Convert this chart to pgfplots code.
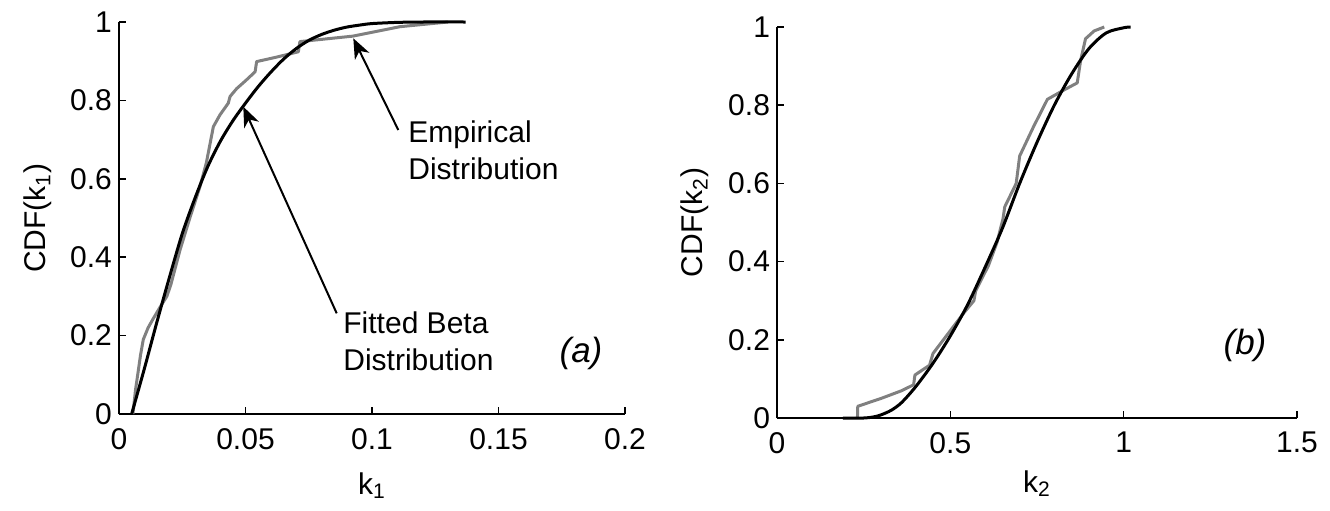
\documentclass[border=0pt]{standalone}
\usepackage{fontspec}
\setmainfont{Liberation Sans}
\usepackage{pgfplots}
\pgfplotsset{compat=1.18}
\usetikzlibrary{arrows.meta}

\definecolor{empgray}{gray}{0.5}

\pgfplotsset{
  cdfax/.style={
    scale only axis,
    anchor=south west,
    axis lines=left,
    axis line style={-, line width=1pt},
    tick align=inside,
    major tick length=3.5pt,
    tick style={line width=0.8pt, black},
    ymin=0, ymax=1,
    ytick={0,0.2,0.4,0.6,0.8,1},
    yticklabels={0,0.2,0.4,0.6,0.8,1},
    ticklabel style={font=\fontsize{15}{18}\selectfont},
    xticklabel style={yshift=-3.5pt},
    label style={font=\fontsize{15}{18}\selectfont},
    /pgf/number format/assume math mode=true,
    clip=false,
  },
  fitline/.style={black, line width=1.5pt, line join=round},
  empline/.style={empgray, line width=1.5pt, line join=round},
}

\begin{document}
\begin{tikzpicture}
\path[use as bounding box] (0pt,0pt) rectangle (665pt,255pt);

% (a) k1
\begin{axis}[cdfax,
  at={(59.5pt,48pt)}, width=253pt, height=196pt,
  xmin=0, xmax=0.2,
  xtick={0,0.05,0.1,0.15,0.2},
  xticklabels={0,0.05,0.1,0.15,0.2},
  xlabel={k\textsubscript{1}},
  ylabel={CDF(k\textsubscript{1})},
  xlabel style={at={(axis description cs:0.5,0)}, anchor=base, yshift=-40pt},
  ylabel style={at={(axis description cs:0,0.5)}, anchor=center, yshift=40.5pt},
]
\addplot[empline] coordinates {
(0.0055,0) (0.0065,0.06) (0.0085,0.15) (0.0096,0.19) (0.0115,0.22) (0.0136,0.244)
(0.016,0.27) (0.0189,0.30) (0.0205,0.33) (0.0241,0.418) (0.028,0.50) (0.032,0.58)
(0.0345,0.64) (0.0373,0.733) (0.0399,0.763) (0.0432,0.793) (0.0439,0.81) (0.0465,0.83)
(0.050,0.85) (0.0538,0.873) (0.0544,0.899) (0.062,0.91) (0.0709,0.924) (0.0715,0.95)
(0.0925,0.964) (0.111,0.988) (0.130,1)
};
\addplot[fitline, smooth] coordinates {
(0.005,0) (0.010,0.115) (0.015,0.235) (0.020,0.35) (0.025,0.46) (0.030,0.55)
(0.035,0.63) (0.040,0.695) (0.045,0.748) (0.050,0.793) (0.055,0.835) (0.060,0.872)
(0.065,0.905) (0.070,0.932) (0.075,0.953) (0.080,0.968) (0.085,0.979) (0.090,0.987)
(0.095,0.992) (0.100,0.996) (0.110,0.999) (0.120,1) (0.137,1)
};
\end{axis}

% (b) k2
\begin{axis}[cdfax,
  at={(388.5pt,46pt)}, width=260pt, height=195.5pt,
  xmin=0, xmax=1.5,
  xtick={0,0.5,1,1.5},
  xticklabels={0,0.5,1,1.5},
  xlabel={k\textsubscript{2}},
  ylabel={CDF(k\textsubscript{2})},
  xlabel style={at={(axis description cs:0.5,0)}, anchor=base, yshift=-37pt},
  ylabel style={at={(axis description cs:0,0.5)}, anchor=center, yshift=41pt},
]
\addplot[empline] coordinates {
(0.232,0) (0.233,0.03) (0.30,0.05) (0.36,0.07) (0.394,0.085) (0.398,0.11)
(0.44,0.135) (0.45,0.165) (0.48,0.20) (0.51,0.235) (0.54,0.27) (0.568,0.30)
(0.573,0.325) (0.61,0.39) (0.635,0.45) (0.652,0.51) (0.657,0.54) (0.69,0.60)
(0.70,0.67) (0.74,0.745) (0.78,0.815) (0.83,0.84) (0.866,0.857) (0.876,0.915)
(0.89,0.97) (0.915,0.99) (0.944,1)
};
\addplot[fitline, smooth] coordinates {
(0.19,0) (0.25,0) (0.28,0.003) (0.30,0.008) (0.33,0.02) (0.36,0.04) (0.40,0.08)
(0.45,0.14) (0.50,0.21) (0.55,0.29) (0.60,0.385) (0.65,0.485) (0.70,0.60)
(0.75,0.705) (0.80,0.80) (0.85,0.88) (0.90,0.945) (0.95,0.985) (1.00,0.998) (1.02,1)
};
\end{axis}

% annotations
\draw[line width=1pt, -{Stealth[length=10pt, width=8pt, inset=3pt]}] (199.15pt,190pt) -- (176.65pt,235.85pt);
\node[anchor=west, align=left, inner sep=0pt, font=\fontsize{15}{18.5}\selectfont] at (204pt,180pt) {Empirical\\Distribution};
\draw[line width=1pt, -{Stealth[length=10pt, width=8pt, inset=3pt]}] (168.35pt,98.35pt) -- (121.65pt,201.65pt);
\node[anchor=west, align=left, inner sep=0pt, font=\fontsize{15}{18.5}\selectfont] at (171.5pt,84.25pt) {Fitted Beta\\Distribution};
\node[font=\fontsize{17.5}{20}\selectfont\itshape] at (290.5pt,78.5pt) {(a)};
\node[font=\fontsize{17.5}{20}\selectfont\itshape] at (622.5pt,82.5pt) {(b)};
\end{tikzpicture}
\end{document}
